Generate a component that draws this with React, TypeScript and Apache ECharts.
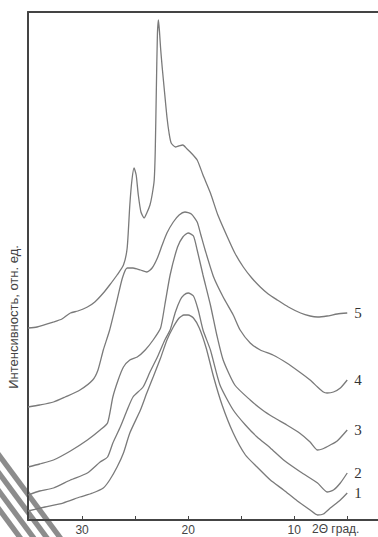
import React, { useEffect, useRef } from "react";
import * as echarts from "echarts";

// 2θ (degrees), intensity (arbitrary units)
const curve1: [number, number][] = [
  [35.1, 9], [33.5, 13], [31.8, 17], [30.2, 23], [29.0, 27], [28.0, 32], [27.4, 40], [26.7, 53],
  [26.1, 67], [25.5, 87], [24.5, 110], [23.9, 127], [23.3, 143], [22.6, 162], [22.0, 180],
  [21.4, 193], [20.85, 202], [20.4, 205], [20.0, 205], [19.5, 202], [18.95, 192], [18.3, 172],
  [17.6, 143], [16.8, 115], [15.75, 87], [14.6, 65], [13.5, 53], [12.25, 40], [11.0, 30],
  [9.7, 19], [8.5, 10], [7.8, 5], [7.25, 6], [6.6, 12], [5.65, 20], [5.0, 27],
];
const curve2: [number, number][] = [
  [35.1, 25], [34.0, 29], [32.7, 32], [31.1, 40], [29.5, 47], [28.3, 58], [27.6, 63], [27.1, 77],
  [26.4, 93], [25.75, 110], [25.2, 123], [24.25, 133], [23.6, 148], [22.9, 163], [22.2, 180],
  [21.7, 190], [21.2, 208], [20.75, 220], [20.4, 225], [20.0, 227], [19.5, 224], [19.05, 210],
  [18.6, 190], [17.9, 170], [17.0, 135], [15.75, 110], [14.6, 95], [13.5, 83], [12.25, 72],
  [11.0, 60], [9.4, 48], [7.8, 37], [6.9, 28], [6.3, 30], [5.65, 37], [5.0, 47],
];
const curve3: [number, number][] = [
  [35.1, 53], [34.0, 56], [32.7, 60], [31.1, 69], [29.5, 80], [28.3, 90], [27.6, 97], [27.1, 123],
  [26.6, 140], [26.1, 153], [25.5, 160], [24.8, 163], [24.05, 170], [23.3, 180], [22.6, 192],
  [22.2, 215], [21.7, 245], [21.0, 273], [20.5, 283], [20.0, 287], [19.5, 284], [19.15, 270],
  [18.6, 245], [17.9, 215], [17.3, 185], [16.7, 160], [15.6, 135], [14.15, 120], [13.0, 110],
  [12.0, 103], [10.7, 95], [9.5, 87], [8.5, 78], [7.8, 70], [7.35, 71], [6.6, 75], [5.95, 79],
  [5.0, 90],
];
const curve4: [number, number][] = [
  [35.1, 113], [34.0, 115], [32.7, 118], [31.6, 123], [30.2, 130], [29.0, 140], [28.5, 150],
  [28.0, 170], [27.4, 190], [26.7, 220], [26.2, 242], [25.75, 252], [25.2, 252], [24.5, 250],
  [23.9, 248], [23.4, 252], [22.9, 262], [22.45, 275], [22.0, 287], [21.4, 298], [20.85, 305],
  [20.3, 308], [19.7, 306], [19.15, 298], [18.8, 285], [18.4, 270], [17.6, 243], [16.7, 223],
  [15.75, 205], [15.1, 190], [14.15, 177], [13.2, 170], [12.0, 165], [10.7, 157], [9.5, 148],
  [8.5, 140], [7.8, 133], [7.25, 128], [6.9, 127], [6.3, 128], [5.65, 132], [5.0, 140],
];
const curve5: [number, number][] = [
  [35.1, 192], [34.25, 193], [32.7, 198], [31.9, 201], [31.1, 207], [30.4, 209], [29.5, 213],
  [28.8, 218], [28.0, 227], [27.4, 235], [26.7, 245], [26.1, 255], [25.75, 272], [25.5, 315],
  [25.3, 340], [25.1, 352], [24.9, 345], [24.7, 325], [24.45, 308], [24.15, 302], [23.9, 307],
  [23.6, 315], [23.4, 325], [23.2, 340], [23.1, 370], [23.0, 430], [22.9, 485], [22.8, 500],
  [22.7, 488], [22.6, 472], [22.45, 453], [22.2, 425], [22.0, 403], [21.8, 387], [21.6, 377],
  [21.2, 373], [20.9, 374], [20.5, 375], [20.1, 371], [19.8, 368], [19.15, 360], [18.6, 345],
  [17.9, 327], [17.2, 305], [16.3, 283], [15.6, 267], [14.8, 253], [14.0, 242], [13.2, 233],
  [12.45, 226], [11.6, 220], [10.55, 213], [9.4, 207], [8.5, 204], [7.8, 203], [6.9, 204],
  [5.95, 206], [5.0, 207],
];

const seriesNames = ["1", "2", "3", "4", "5"];
const seriesData = [curve1, curve2, curve3, curve4, curve5];
const xTickValues = [30, 25, 20, 15, 10, 5];
const xLabelValues = [30, 20, 10];
const xRange = { min: 2.1, max: 35.1 };
const yRange = { min: 0, max: 508 };
const yAxisTitle = "Интенсивность, отн. ед.";
const xAxisTitle = "2Θ град.";

function stripe(y0: number, w: number) {
  const slope = 1.35;
  return {
    type: "polygon",
    silent: true,
    shape: {
      points: [
        [0, y0],
        [(537 - y0) / slope, 537],
        [(537 - y0 - w) / slope, 537],
        [0, y0 + w],
      ],
    },
    style: { fill: "#8c8c8c" },
  };
}

export default function App() {
  const ref = useRef<HTMLDivElement>(null);
  useEffect(() => {
    document.body.style.margin = "0";
    if (!ref.current) return;
    const chart = echarts.init(ref.current, undefined, { renderer: "svg" });
    const axisColor = "#444";
    chart.setOption({
      animation: false,
      backgroundColor: "#fff",
      grid: { left: 28, right: 0, top: 12, bottom: 17 },
      xAxis: [
        {
          type: "value",
          inverse: true,
          min: xRange.min,
          max: xRange.max,
          position: "bottom",
          axisLine: { show: true, lineStyle: { color: axisColor, width: 1.8 } },
          axisTick: {
            show: true,
            inside: true,
            length: 4,
            customValues: xTickValues,
            lineStyle: { color: axisColor, width: 1 },
          },
          axisLabel: {
            show: true,
            customValues: xLabelValues,
            margin: 4,
            fontSize: 12,
            color: "#444",
            fontFamily: "Liberation Sans, Arial, sans-serif",
          },
          splitLine: { show: false },
        },
        {
          type: "value",
          inverse: true,
          min: xRange.min,
          max: xRange.max,
          position: "top",
          axisLine: { show: true, lineStyle: { color: axisColor, width: 1.8 } },
          axisTick: { show: false },
          axisLabel: { show: false },
          splitLine: { show: false },
        },
      ],
      yAxis: {
        type: "value",
        min: yRange.min,
        max: yRange.max,
        axisLine: { show: true, lineStyle: { color: axisColor, width: 2 } },
        axisTick: { show: false },
        axisLabel: { show: false },
        splitLine: { show: false },
      },
      series: seriesData.map((d, i) => ({
        name: seriesNames[i],
        type: "line",
        data: d,
        showSymbol: false,
        smooth: 0.2,
        lineStyle: { color: "#7a7a7a", width: 1.3 },
        endLabel: {
          show: true,
          formatter: "{a}",
          position: "right",
          align: "left",
          verticalAlign: "middle",
          distance: 6,
          offset: [13, 0],
          fontFamily: "Liberation Serif, Times New Roman, serif",
          fontSize: 15,
          color: "#333",
        },
      })),
      graphic: [
        {
          type: "text",
          x: 13,
          y: 317,
          rotation: Math.PI / 2,
          style: {
            text: yAxisTitle,
            fontFamily: "Liberation Sans Narrow, Arial Narrow, Liberation Sans, sans-serif",
            fontSize: 13,
            fill: "#444",
            align: "center",
            verticalAlign: "middle",
          },
        },
        {
          type: "text",
          x: 312,
          y: 529,
          style: {
            text: xAxisTitle,
            fontFamily: "Liberation Sans, Arial, sans-serif",
            fontSize: 12,
            fill: "#444",
            align: "left",
            verticalAlign: "middle",
          },
        },
        stripe(452, 9),
        stripe(470, 9),
        stripe(488, 9),
        stripe(506, 9),
      ],
    });
    return () => chart.dispose();
  }, []);
  return <div ref={ref} style={{ width: 378, height: 537 }} />;
}
